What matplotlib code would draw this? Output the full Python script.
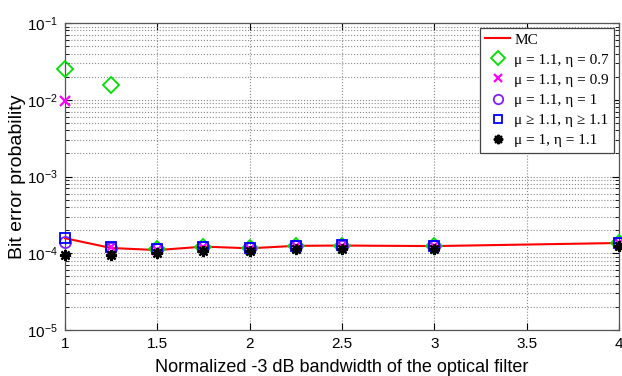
import numpy as np
import matplotlib.pyplot as plt
from matplotlib.ticker import FixedLocator, LogLocator, NullFormatter

plt.rcParams['mathtext.fontset'] = 'custom'
plt.rcParams['mathtext.rm'] = 'Liberation Sans'
plt.rcParams['mathtext.it'] = 'Liberation Sans:italic'
plt.rcParams['mathtext.bf'] = 'Liberation Sans:bold'

# normalized -3 dB bandwidth of the optical filter
bw = [1, 1.25, 1.5, 1.75, 2, 2.25, 2.5, 3, 4]

ber_mc = [1.57e-4, 1.17e-4, 1.10e-4, 1.22e-4, 1.16e-4, 1.25e-4, 1.26e-4, 1.24e-4, 1.36e-4]
ber_07 = [2.5e-2, 1.55e-2, 1.12e-4, 1.22e-4, 1.18e-4, 1.26e-4, 1.26e-4, 1.25e-4, 1.36e-4]
ber_09 = [9.5e-3, 1.2e-4, 1.1e-4, 1.2e-4, 1.15e-4, 1.24e-4, 1.25e-4, 1.24e-4, 1.35e-4]
ber_10 = [1.4e-4, 1.18e-4, 1.12e-4, 1.2e-4, 1.16e-4, 1.24e-4, 1.25e-4, 1.25e-4, 1.36e-4]
ber_11 = [1.6e-4, 1.2e-4, 1.14e-4, 1.22e-4, 1.18e-4, 1.26e-4, 1.27e-4, 1.26e-4, 1.37e-4]
ber_eta11 = [9.5e-5, 9.5e-5, 1.0e-4, 1.07e-4, 1.08e-4, 1.12e-4, 1.12e-4, 1.15e-4, 1.25e-4]

labels = ['MC',
          'μ = 1.1, η = 0.7',
          'μ = 1.1, η = 0.9',
          'μ = 1.1, η = 1',
          'μ ≥ 1.1, η ≥ 1.1',
          'μ = 1, η = 1.1']

fig = plt.figure(figsize=(6.22, 3.76), dpi=100)
ax = fig.add_axes([65 / 622, 1 - 330 / 376, 554 / 622, 307 / 376])

ax.plot(bw, ber_mc, color='red', linewidth=1.5, label=labels[0], zorder=3, clip_on=False)
ax.plot(bw, ber_07, linestyle='none', marker='D', markersize=8, markerfacecolor='none',
        markeredgecolor='#00e000', markeredgewidth=1.3, label=labels[1], zorder=4, clip_on=False)
ax.plot(bw, ber_09, linestyle='none', marker='x', markersize=7, color='#ff00ff',
        markeredgewidth=1.6, label=labels[2], zorder=5, clip_on=False)
ax.plot(bw, ber_10, linestyle='none', marker='o', markersize=8, markerfacecolor='none',
        markeredgecolor='#7f1fff', markeredgewidth=1.3, label=labels[3], zorder=6, clip_on=False)
ax.plot(bw, ber_11, linestyle='none', marker='s', markersize=7, markerfacecolor='none',
        markeredgecolor='#0000ff', markeredgewidth=1.3, label=labels[4], zorder=7, clip_on=False)
ax.plot(bw, ber_eta11, linestyle='none', marker=(8, 2, 0), markersize=8, color='black',
        markeredgewidth=1.6, label=labels[5], zorder=8, clip_on=False)

ax.set_yscale('log')
ax.set_xlim(1, 4)
ax.set_ylim(1e-5, 1e-1)
ax.xaxis.set_major_locator(FixedLocator([1, 1.5, 2, 2.5, 3, 3.5, 4]))
ax.set_xticklabels(['1', '1.5', '2', '2.5', '3', '3.5', '4'])
ax.yaxis.set_major_locator(LogLocator(base=10, numticks=10))
ax.yaxis.set_minor_locator(LogLocator(base=10, subs=np.arange(2, 10), numticks=20))
ax.yaxis.set_minor_formatter(NullFormatter())

ax.grid(True, which='major', linestyle=':', color='#888888', linewidth=0.8)
ax.grid(True, which='minor', axis='y', linestyle=':', color='#888888', linewidth=0.8)
ax.tick_params(which='both', direction='in', top=True, right=True,
               labelsize=11, colors='black', pad=5)
ax.tick_params(which='major', length=5)
ax.tick_params(which='minor', length=3)
for lbl in ax.get_xticklabels() + ax.get_yticklabels():
    lbl.set_family('Liberation Sans')
for s in ax.spines.values():
    s.set_color('#555555')
    s.set_linewidth(0.9)

ax.set_xlabel('Normalized -3 dB bandwidth of the optical filter', fontsize=13,
              family='Liberation Sans', labelpad=6)
ax.set_ylabel('Bit error probability', fontsize=14, family='Liberation Sans', labelpad=1)

leg = ax.legend(loc='upper right', prop={'family': 'Liberation Serif', 'size': 11},
                fancybox=False, framealpha=1, edgecolor='#444444',
                handlelength=1.6, handletextpad=0.3, borderpad=0.35,
                labelspacing=0.42, borderaxespad=0.3, markerscale=0.85)
leg.get_frame().set_linewidth(0.9)
leg.set_zorder(20)

fig.savefig('out.png', dpi=100)
